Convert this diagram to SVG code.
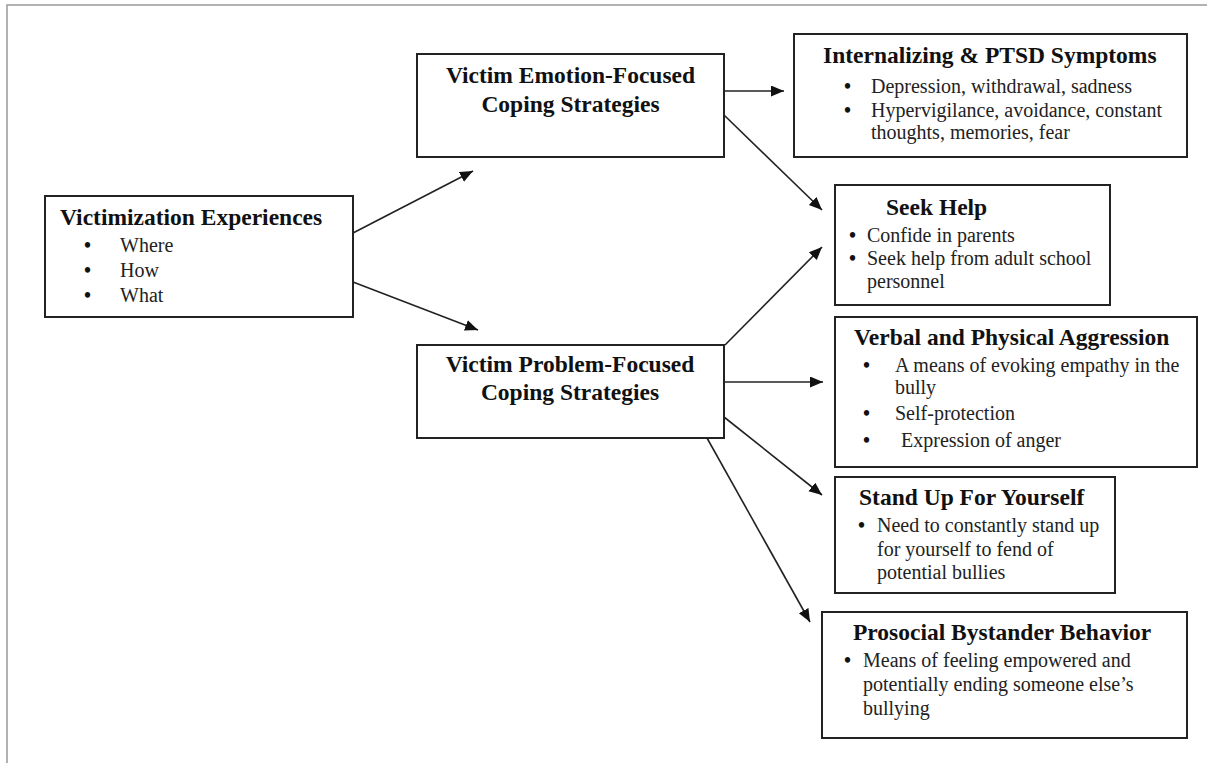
<svg xmlns="http://www.w3.org/2000/svg" width="1207" height="763" viewBox="0 0 1207 763">
<defs>
<style>
.box{fill:#fff;stroke:#222;stroke-width:2}
.t{font-family:"Liberation Serif","Times New Roman",serif;font-weight:bold;font-size:23.5px;fill:#111}
.b{font-family:"Liberation Serif","Times New Roman",serif;font-size:20px;fill:#222}
.d{font-family:"Liberation Serif","Times New Roman",serif;font-size:20px;font-weight:bold;fill:#111}
.c{stroke:#222;stroke-width:1.6;fill:none;marker-end:url(#ah)}
</style>
<marker id="ah" markerUnits="userSpaceOnUse" markerWidth="14" markerHeight="12" refX="13" refY="5.5" orient="auto">
<path d="M0,0 L13,5.5 L0,11 z" fill="#111"/>
</marker>
</defs>
<rect width="1207" height="763" fill="#fff"/>
<path d="M7,763 V5 H1207" fill="none" stroke="#999" stroke-width="1.5"/>

<g id="connectors">
<line class="c" x1="353" y1="233" x2="473" y2="171"/>
<line class="c" x1="353" y1="282" x2="478" y2="330"/>
<line class="c" x1="724" y1="91" x2="784" y2="91"/>
<line class="c" x1="724" y1="115" x2="822" y2="210"/>
<line class="c" x1="725" y1="345" x2="822" y2="247"/>
<line class="c" x1="724" y1="382" x2="823" y2="382"/>
<line class="c" x1="724" y1="417" x2="822" y2="495"/>
<line class="c" x1="707" y1="438" x2="810" y2="622"/>
</g>

<g id="victimization">
<rect class="box" x="45" y="196" width="308" height="121"/>
<text class="t" x="60" y="225">Victimization Experiences</text>
<text class="d" x="84" y="252">•</text><text class="b" x="120" y="252">Where</text>
<text class="d" x="84" y="277">•</text><text class="b" x="120" y="277">How</text>
<text class="d" x="84" y="302">•</text><text class="b" x="120" y="302">What</text>
</g>

<g id="emotion">
<rect class="box" x="417" y="54" width="307" height="103"/>
<text class="t" x="570.5" y="83" text-anchor="middle">Victim Emotion-Focused</text>
<text class="t" x="570.5" y="112" text-anchor="middle">Coping Strategies</text>
</g>

<g id="problem">
<rect class="box" x="417" y="345" width="307" height="93"/>
<text class="t" x="570" y="372" text-anchor="middle">Victim Problem-Focused</text>
<text class="t" x="570" y="400" text-anchor="middle">Coping Strategies</text>
</g>

<g id="internalizing">
<rect class="box" x="794" y="34" width="393" height="123"/>
<text class="t" x="823" y="63">Internalizing &amp; PTSD Symptoms</text>
<text class="d" x="844" y="93">•</text><text class="b" x="871" y="93">Depression, withdrawal, sadness</text>
<text class="d" x="844" y="117">•</text><text class="b" x="871" y="117">Hypervigilance, avoidance, constant</text>
<text class="b" x="871" y="139">thoughts, memories, fear</text>
</g>

<g id="seekhelp">
<rect class="box" x="835" y="185" width="275" height="120"/>
<text class="t" x="886" y="215">Seek Help</text>
<text class="d" x="849" y="242">•</text><text class="b" x="867" y="242">Confide in parents</text>
<text class="d" x="849" y="265">•</text><text class="b" x="867" y="265">Seek help from adult school</text>
<text class="b" x="867" y="288">personnel</text>
</g>

<g id="aggression">
<rect class="box" x="835" y="317" width="362" height="150"/>
<text class="t" x="854" y="345">Verbal and Physical Aggression</text>
<text class="d" x="863" y="372">•</text><text class="b" x="895" y="372">A means of evoking empathy in the</text>
<text class="b" x="895" y="394">bully</text>
<text class="d" x="863" y="420">•</text><text class="b" x="895" y="420">Self-protection</text>
<text class="d" x="863" y="447">•</text><text class="b" x="901" y="447">Expression of anger</text>
</g>

<g id="standup">
<rect class="box" x="835" y="477" width="280" height="116"/>
<text class="t" x="859" y="505">Stand Up For Yourself</text>
<text class="d" x="858" y="532">•</text><text class="b" x="877" y="532">Need to constantly stand up</text>
<text class="b" x="877" y="556">for yourself to fend of</text>
<text class="b" x="877" y="579">potential bullies</text>
</g>

<g id="prosocial">
<rect class="box" x="822" y="612" width="365" height="126"/>
<text class="t" x="853" y="640">Prosocial Bystander Behavior</text>
<text class="d" x="844" y="667">•</text><text class="b" x="863" y="667">Means of feeling empowered and</text>
<text class="b" x="863" y="691">potentially ending someone else’s</text>
<text class="b" x="863" y="715">bullying</text>
</g>
</svg>
